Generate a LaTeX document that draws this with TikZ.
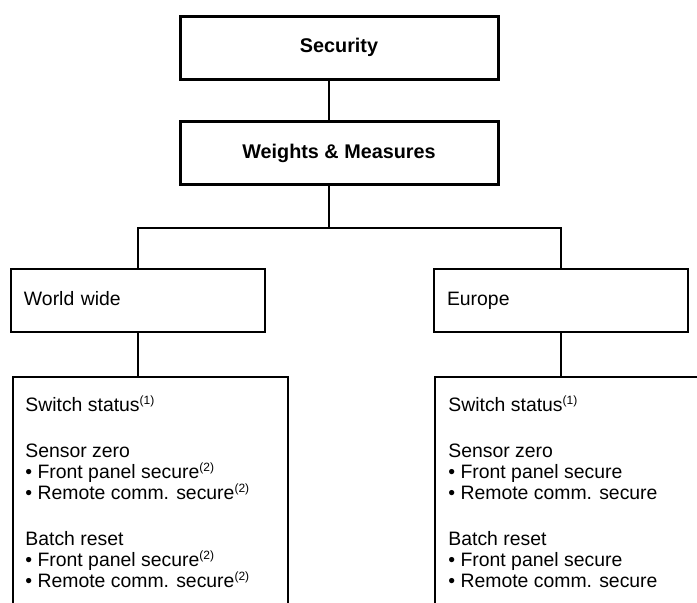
\documentclass[tikz,border=0pt]{standalone}
\usepackage{fontspec}
\setmainfont{Liberation Sans}
\usetikzlibrary{positioning}
\newcommand\fnmark[1]{\textsuperscript{\fontsize{6}{6}\selectfont(#1)}}
\begin{document}
\begin{tikzpicture}[x=0.5pt,y=-0.5pt,
	head/.style={draw,line width=1.5pt,minimum width=159pt,minimum height=31.5pt,inner sep=0,font=\bfseries\fontsize{9.9}{10.5}\selectfont},
	region/.style={draw,line width=0.75pt,minimum width=127pt,minimum height=31.5pt,text width=114pt,inner xsep=6.5pt,text height=7pt,text depth=2pt,align=left,font=\fontsize{9.7}{10.5}\selectfont},
	listbox/.style={draw,line width=0.75pt,anchor=north west,minimum height=150pt,inner sep=0},
	listtext/.style={anchor=north west,inner sep=0,align=left,font=\fontsize{9.7}{10.5}\selectfont}]
	\path[use as bounding box,fill=white] (0,0) rectangle (697,602);
	\clip (0,0) rectangle (697,602);
	\node [head] at (339,47.5) (sec) {Security};
	\node [head] at (339,153) (wm) {Weights \& Measures};
	\node [region] at (138,300.5) (ww) {World wide};
	\node [region] at (561,300.5) (eu) {Europe};
	\node [listbox,minimum width=137.5pt] at (12,376) (wwbox) {};
	\node [listbox,minimum width=150pt] at (434,376) (eubox) {};
	\node [listtext] at ([xshift=6.5pt,yshift=-9.5pt]wwbox.north west) (wwlist) {Switch status\fnmark{1}\\[12.5pt]
		Sensor zero\\• Front panel secure\fnmark{2}\\• Remote comm. secure\fnmark{2}\\[12.5pt]
		Batch reset\\• Front panel secure\fnmark{2}\\• Remote comm. secure\fnmark{2}};
	\node [listtext] at ([xshift=7pt,yshift=-9.5pt]eubox.north west) (eulist) {Switch status\fnmark{1}\\[12.5pt]
		Sensor zero\\• Front panel secure\\• Remote comm. secure\\[12.5pt]
		Batch reset\\• Front panel secure\\• Remote comm. secure};
	\coordinate (fork) at (329,228);
	\draw [line width=0.75pt] (sec.south -| fork) -- (wm.north -| fork);
	\draw [line width=0.75pt] (wm.south -| fork) -- (fork);
	\draw [line width=0.75pt] (ww.north) |- (fork) -| (eu.north);
	\draw [line width=0.75pt] (ww.south) -- (ww.south |- wwbox.north);
	\draw [line width=0.75pt] (eu.south) -- (eu.south |- eubox.north);
\end{tikzpicture}
\end{document}
